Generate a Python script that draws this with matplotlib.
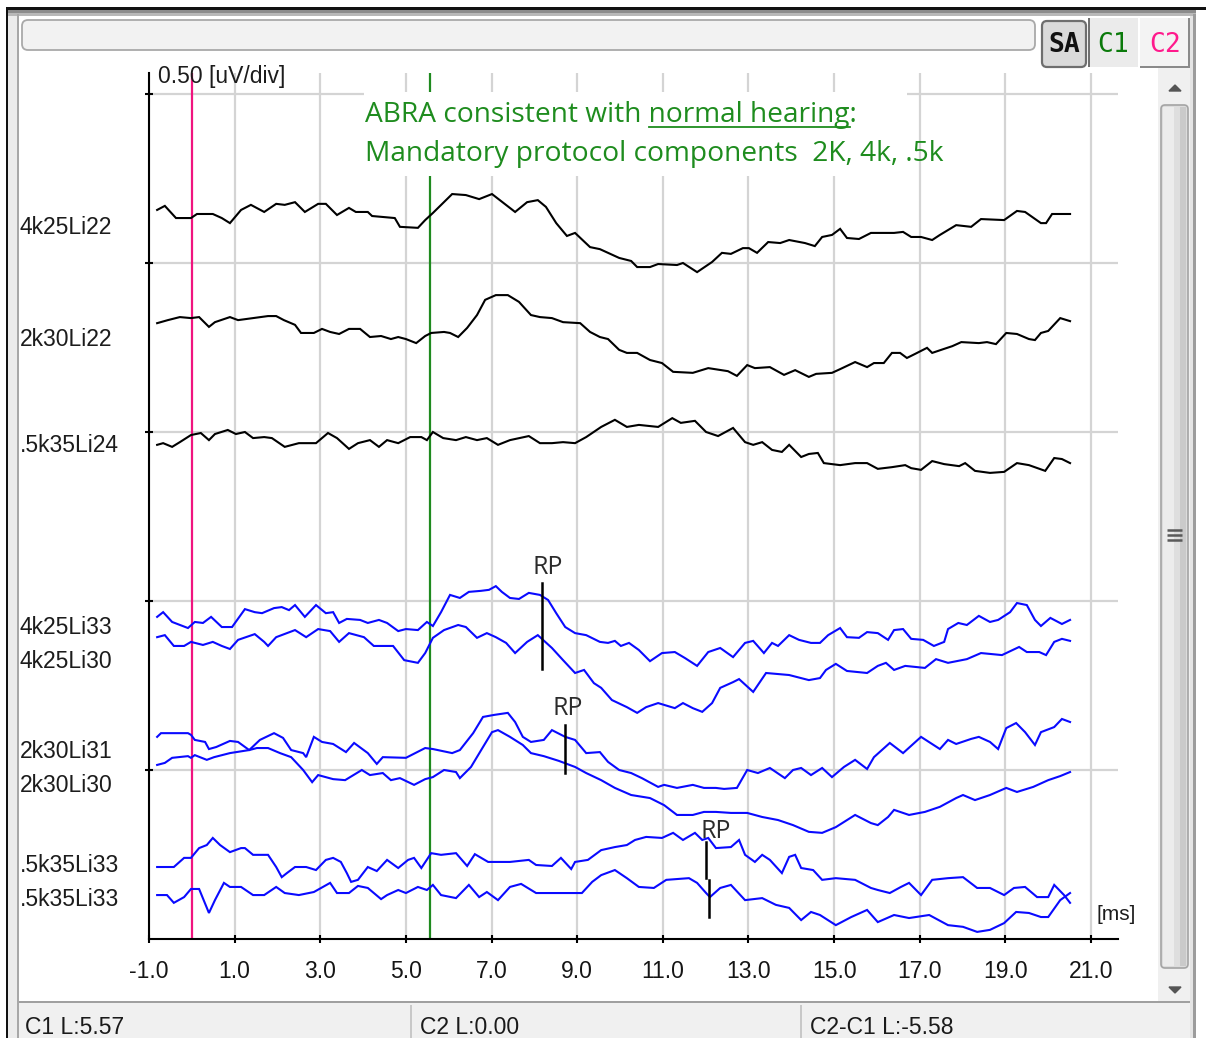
import matplotlib
matplotlib.use("Agg")
import matplotlib.pyplot as plt
from matplotlib.patches import Rectangle, FancyBboxPatch, Polygon
from matplotlib.lines import Line2D
import numpy as np

# ---------------- data ----------------
latency_ticks = [-1.0, 1.0, 3.0, 5.0, 7.0, 9.0, 11.0, 13.0, 15.0, 17.0, 19.0, 21.0]
amplitude_grid = [0.5, 1.0, 1.5, 2.0, 2.5]
scale_label = "0.50 [uV/div]"
unit_label = "[ms]"

trace_names = ["4k25Li22", "2k30Li22", ".5k35Li24", "4k25Li33", "4k25Li30",
               "2k30Li31", "2k30Li30", ".5k35Li33", ".5k35Li33"]
trace_colors = ["black", "black", "black", "blue", "blue", "blue", "blue", "blue", "blue"]

# (latency ms, amplitude uV on display scale)
tr_4k25Li22 = [(-0.81,2.157),(-0.63,2.169),(-0.37,2.133),(-0.02,2.133),(0.12,2.145),(0.49,2.145),(0.70,2.133),(0.89,2.118),(1.15,2.157),(1.38,2.172),(1.69,2.151),(1.97,2.175),(2.17,2.172),(2.41,2.180),(2.64,2.151),(2.95,2.175),(3.13,2.175),(3.39,2.142),(3.67,2.163),(3.83,2.151),(4.11,2.151),(4.21,2.139),(4.74,2.133),(4.86,2.107),(5.28,2.104),(5.45,2.127),(5.63,2.148),(6.08,2.204),(6.40,2.201),(6.71,2.189),(7.01,2.204),(7.55,2.151),(7.83,2.180),(8.08,2.186),(8.27,2.166),(8.51,2.118),(8.76,2.080),(8.95,2.089),(9.30,2.047),(9.53,2.041),(9.98,2.015),(10.26,2.006),(10.40,1.988),(10.70,1.988),(10.89,1.997),(11.33,1.994),(11.47,2.000),(11.80,1.973),(12.15,2.003),(12.38,2.030),(12.59,2.027),(12.87,2.044),(13.01,2.044),(13.20,2.030),(13.46,2.062),(13.74,2.059),(13.95,2.068),(14.32,2.059),(14.55,2.050),(14.72,2.077),(14.95,2.083),(15.14,2.101),(15.30,2.074),(15.58,2.071),(15.86,2.089),(16.40,2.089),(16.61,2.092),(16.80,2.077),(17.03,2.077),(17.29,2.068),(17.47,2.083),(17.85,2.112),(18.20,2.107),(18.43,2.130),(18.97,2.127),(19.27,2.154),(19.46,2.151),(19.83,2.118),(19.95,2.118),(20.09,2.145),(20.51,2.145)]
tr_2k30Li22 = [(-0.81,1.822),(-0.56,1.831),(-0.28,1.840),(-0.02,1.837),(0.17,1.840),(0.40,1.811),(0.54,1.825),(0.89,1.840),(1.08,1.831),(1.43,1.837),(1.78,1.843),(1.97,1.843),(2.15,1.831),(2.41,1.817),(2.55,1.793),(2.85,1.793),(3.04,1.805),(3.23,1.796),(3.44,1.790),(3.67,1.805),(3.93,1.805),(4.16,1.781),(4.42,1.784),(4.65,1.775),(4.82,1.781),(5.00,1.775),(5.24,1.763),(5.45,1.784),(5.59,1.793),(5.89,1.796),(6.03,1.793),(6.22,1.781),(6.43,1.808),(6.66,1.846),(6.85,1.891),(7.10,1.905),(7.38,1.905),(7.64,1.885),(7.92,1.846),(8.13,1.840),(8.41,1.837),(8.67,1.825),(9.07,1.822),(9.30,1.796),(9.53,1.781),(9.72,1.775),(9.98,1.743),(10.16,1.734),(10.40,1.734),(10.70,1.713),(10.98,1.704),(11.24,1.678),(11.70,1.675),(12.06,1.689),(12.52,1.680),(12.73,1.666),(12.97,1.698),(13.15,1.689),(13.50,1.692),(13.83,1.669),(14.09,1.683),(14.41,1.663),(14.58,1.672),(14.95,1.675),(15.14,1.686),(15.49,1.707),(15.77,1.692),(15.93,1.704),(16.16,1.704),(16.35,1.734),(16.54,1.734),(16.70,1.719),(16.89,1.731),(17.17,1.749),(17.29,1.734),(17.57,1.746),(17.76,1.754),(17.97,1.766),(18.38,1.763),(18.57,1.766),(18.78,1.760),(19.02,1.793),(19.27,1.790),(19.55,1.775),(19.69,1.772),(19.83,1.793),(20.00,1.799),(20.28,1.837),(20.51,1.828)]
tr_5k35Li24 = [(-0.81,1.462),(-0.67,1.467),(-0.46,1.456),(-0.28,1.470),(-0.02,1.491),(0.21,1.497),(0.40,1.476),(0.54,1.494),(0.84,1.506),(1.03,1.494),(1.24,1.500),(1.43,1.482),(1.69,1.485),(1.87,1.482),(2.17,1.456),(2.50,1.467),(2.90,1.467),(3.18,1.497),(3.39,1.482),(3.67,1.450),(3.88,1.467),(4.16,1.476),(4.37,1.456),(4.56,1.476),(4.82,1.467),(5.10,1.485),(5.36,1.485),(5.49,1.476),(5.63,1.500),(5.87,1.482),(6.17,1.476),(6.40,1.485),(6.66,1.476),(6.89,1.482),(7.15,1.462),(7.43,1.476),(7.87,1.488),(8.13,1.467),(8.41,1.467),(8.67,1.470),(8.95,1.467),(9.21,1.485),(9.56,1.515),(9.88,1.536),(10.16,1.515),(10.44,1.521),(10.89,1.515),(11.22,1.541),(11.42,1.527),(11.75,1.533),(12.01,1.500),(12.29,1.488),(12.64,1.512),(12.92,1.470),(13.11,1.462),(13.32,1.470),(13.55,1.447),(13.78,1.441),(13.95,1.462),(14.23,1.426),(14.41,1.435),(14.62,1.438),(14.76,1.408),(15.14,1.402),(15.49,1.408),(15.77,1.408),(16.02,1.391),(16.35,1.396),(16.66,1.402),(16.80,1.393),(17.03,1.388),(17.29,1.414),(17.57,1.405),(17.92,1.399),(18.06,1.408),(18.29,1.385),(18.64,1.379),(18.97,1.382),(19.27,1.408),(19.55,1.402),(19.93,1.385),(20.14,1.423),(20.32,1.420),(20.51,1.408)]
tr_4k25Li33 = [(-0.81,0.953),(-0.67,0.967),(-0.46,0.938),(-0.09,0.920),(0.07,0.938),(0.26,0.935),(0.45,0.953),(0.70,0.923),(0.94,0.923),(1.24,0.976),(1.47,0.967),(1.64,0.964),(1.92,0.979),(2.10,0.982),(2.27,0.973),(2.41,0.988),(2.64,0.953),(2.90,0.988),(3.13,0.964),(3.30,0.967),(3.44,0.935),(3.62,0.947),(3.93,0.944),(4.11,0.935),(4.37,0.944),(4.56,0.935),(4.82,0.911),(5.00,0.917),(5.28,0.914),(5.49,0.938),(5.63,0.926),(5.82,0.967),(6.03,1.018),(6.26,1.009),(6.47,1.027),(6.75,1.030),(6.94,1.033),(7.10,1.044),(7.24,1.027),(7.43,1.009),(7.64,1.006),(7.87,1.024),(8.13,1.018),(8.32,1.003),(8.51,0.964),(8.72,0.923),(8.95,0.905),(9.21,0.899),(9.53,0.879),(9.72,0.876),(9.88,0.882),(10.02,0.867),(10.21,0.876),(10.44,0.855),(10.70,0.822),(10.98,0.846),(11.28,0.849),(11.52,0.831),(11.80,0.808),(12.06,0.849),(12.34,0.861),(12.64,0.834),(12.92,0.876),(13.11,0.882),(13.36,0.846),(13.55,0.876),(13.69,0.867),(13.95,0.899),(14.18,0.885),(14.46,0.876),(14.67,0.876),(14.86,0.899),(15.14,0.920),(15.30,0.893),(15.58,0.891),(15.77,0.908),(16.02,0.905),(16.26,0.885),(16.40,0.914),(16.61,0.917),(16.80,0.888),(17.08,0.885),(17.33,0.867),(17.57,0.879),(17.66,0.917),(17.90,0.935),(18.10,0.929),(18.38,0.956),(18.64,0.938),(18.83,0.944),(19.11,0.967),(19.27,0.994),(19.50,0.988),(19.69,0.944),(19.83,0.926),(20.05,0.950),(20.32,0.932),(20.51,0.944)]
tr_4k25Li30 = [(-0.81,0.893),(-0.63,0.899),(-0.42,0.867),(-0.18,0.867),(-0.02,0.879),(0.26,0.870),(0.49,0.879),(0.70,0.867),(0.89,0.858),(1.08,0.885),(1.47,0.902),(1.69,0.879),(1.78,0.867),(1.97,0.893),(2.41,0.914),(2.67,0.893),(2.95,0.917),(3.23,0.911),(3.44,0.879),(3.67,0.905),(4.02,0.893),(4.25,0.867),(4.70,0.867),(4.96,0.825),(5.28,0.817),(5.45,0.846),(5.63,0.891),(5.89,0.914),(6.22,0.929),(6.40,0.923),(6.66,0.891),(6.89,0.905),(7.10,0.893),(7.34,0.876),(7.55,0.846),(7.83,0.879),(8.08,0.899),(8.41,0.861),(8.67,0.825),(8.95,0.787),(9.16,0.796),(9.39,0.757),(9.56,0.743),(9.81,0.707),(10.16,0.686),(10.40,0.669),(10.61,0.686),(10.89,0.698),(11.28,0.683),(11.47,0.698),(11.70,0.683),(11.92,0.672),(12.15,0.698),(12.34,0.743),(12.64,0.760),(12.78,0.769),(13.11,0.731),(13.41,0.787),(13.95,0.781),(14.41,0.766),(14.67,0.772),(14.81,0.796),(15.04,0.814),(15.30,0.793),(15.77,0.787),(16.02,0.808),(16.21,0.817),(16.40,0.796),(16.66,0.808),(17.12,0.802),(17.38,0.828),(17.66,0.817),(18.10,0.828),(18.43,0.846),(18.92,0.840),(19.32,0.864),(19.50,0.849),(19.79,0.849),(19.95,0.840),(20.14,0.879),(20.32,0.888),(20.51,0.882)]
tr_2k30Li31 = [(-0.81,0.515),(-0.63,0.521),(-0.46,0.536),(-0.09,0.541),(-0.02,0.536),(0.07,0.544),(0.35,0.530),(0.52,0.538),(0.89,0.550),(1.34,0.559),(1.59,0.589),(1.92,0.609),(2.13,0.595),(2.32,0.559),(2.60,0.550),(2.67,0.538),(2.85,0.598),(3.04,0.583),(3.30,0.577),(3.60,0.553),(3.79,0.580),(4.11,0.550),(4.32,0.518),(4.46,0.538),(5.00,0.536),(5.45,0.565),(5.63,0.562),(6.08,0.550),(6.26,0.559),(6.57,0.609),(6.80,0.657),(7.06,0.663),(7.38,0.669),(7.55,0.642),(7.73,0.598),(7.92,0.583),(8.22,0.589),(8.41,0.618),(8.72,0.598),(8.95,0.589),(9.21,0.550),(9.53,0.553),(9.72,0.524),(9.98,0.500),(10.26,0.491),(10.51,0.476),(10.89,0.450),(11.03,0.456),(11.33,0.447),(11.70,0.456),(11.96,0.447),(12.24,0.447),(12.43,0.444),(12.73,0.447),(12.97,0.500),(13.22,0.491),(13.50,0.506),(13.85,0.476),(14.04,0.500),(14.23,0.506),(14.46,0.485),(14.72,0.506),(14.95,0.479),(15.23,0.509),(15.49,0.530),(15.77,0.503),(15.93,0.538),(16.30,0.580),(16.61,0.550),(17.03,0.598),(17.47,0.562),(17.66,0.589),(17.85,0.577),(18.20,0.592),(18.38,0.598),(18.64,0.583),(18.83,0.562),(19.02,0.624),(19.25,0.639),(19.46,0.612),(19.69,0.574),(19.83,0.612),(20.14,0.627),(20.32,0.651),(20.51,0.642)]
tr_2k30Li30 = [(-0.81,0.598),(-0.72,0.609),(-0.09,0.609),(-0.02,0.604),(0.07,0.589),(0.31,0.583),(0.40,0.562),(0.57,0.568),(0.89,0.586),(1.08,0.583),(1.34,0.559),(1.52,0.565),(1.78,0.565),(2.06,0.550),(2.32,0.538),(2.60,0.500),(2.81,0.464),(2.95,0.485),(3.30,0.473),(3.58,0.470),(3.97,0.500),(4.16,0.485),(4.46,0.491),(4.65,0.470),(4.86,0.476),(5.19,0.456),(5.45,0.473),(5.63,0.479),(5.89,0.500),(6.17,0.494),(6.26,0.476),(6.52,0.509),(6.80,0.568),(7.01,0.612),(7.15,0.618),(7.43,0.598),(7.73,0.574),(7.92,0.550),(8.22,0.541),(8.57,0.527),(8.95,0.509),(9.21,0.491),(9.56,0.470),(9.88,0.447),(10.26,0.426),(10.70,0.417),(11.03,0.396),(11.33,0.367),(11.70,0.367),(11.96,0.376),(12.24,0.376),(12.59,0.373),(12.97,0.373),(13.32,0.361),(13.69,0.352),(14.04,0.337),(14.41,0.317),(14.72,0.314),(15.04,0.331),(15.49,0.367),(15.86,0.343),(16.02,0.337),(16.26,0.361),(16.40,0.382),(16.75,0.367),(17.12,0.376),(17.47,0.391),(17.85,0.417),(18.01,0.426),(18.29,0.411),(18.64,0.426),(19.02,0.447),(19.27,0.435),(19.65,0.450),(20.00,0.470),(20.28,0.482),(20.51,0.494)]
tr_5k35Li33_a = [(-0.81,0.213),(-0.42,0.213),(-0.18,0.240),(-0.02,0.240),(0.17,0.269),(0.35,0.278),(0.49,0.299),(0.66,0.278),(0.89,0.257),(1.15,0.269),(1.24,0.269),(1.43,0.249),(1.78,0.249),(1.97,0.213),(2.10,0.183),(2.22,0.195),(2.41,0.213),(2.67,0.213),(2.90,0.204),(3.13,0.234),(3.30,0.240),(3.48,0.228),(3.62,0.195),(3.72,0.169),(3.88,0.175),(4.11,0.213),(4.32,0.201),(4.56,0.234),(4.82,0.210),(5.05,0.234),(5.19,0.240),(5.36,0.210),(5.59,0.254),(5.82,0.249),(6.17,0.254),(6.43,0.216),(6.61,0.251),(6.92,0.228),(7.43,0.228),(7.87,0.234),(8.04,0.219),(8.41,0.216),(8.62,0.240),(8.86,0.207),(8.95,0.228),(9.25,0.234),(9.56,0.263),(9.88,0.272),(10.16,0.278),(10.35,0.293),(10.61,0.302),(10.98,0.299),(11.24,0.314),(11.47,0.293),(11.75,0.314),(11.92,0.293),(12.06,0.299),(12.24,0.269),(12.59,0.272),(12.78,0.293),(12.92,0.249),(13.15,0.228),(13.32,0.249),(13.50,0.234),(13.78,0.195),(13.95,0.243),(14.09,0.249),(14.23,0.210),(14.51,0.204),(14.72,0.175),(15.04,0.180),(15.49,0.175),(15.86,0.151),(16.02,0.145),(16.30,0.136),(16.56,0.154),(16.75,0.166),(17.03,0.130),(17.29,0.175),(17.66,0.180),(18.01,0.183),(18.34,0.151),(18.64,0.151),(18.97,0.130),(19.20,0.151),(19.46,0.154),(19.74,0.124),(20.00,0.124),(20.14,0.160),(20.37,0.130),(20.51,0.107)]
tr_5k35Li33_b = [(-0.81,0.130),(-0.58,0.130),(-0.42,0.107),(-0.18,0.124),(-0.02,0.148),(0.17,0.148),(0.40,0.077),(0.54,0.115),(0.75,0.166),(0.89,0.154),(1.15,0.154),(1.43,0.130),(1.69,0.130),(1.97,0.154),(2.17,0.136),(2.50,0.130),(2.85,0.139),(3.23,0.166),(3.39,0.136),(3.67,0.136),(3.88,0.157),(4.11,0.151),(4.42,0.118),(4.56,0.130),(4.82,0.145),(5.00,0.136),(5.28,0.154),(5.49,0.145),(5.63,0.160),(5.82,0.130),(6.17,0.121),(6.47,0.160),(6.71,0.124),(6.89,0.139),(7.15,0.115),(7.43,0.154),(7.69,0.163),(8.04,0.136),(8.46,0.136),(8.67,0.136),(9.11,0.136),(9.35,0.169),(9.56,0.189),(9.88,0.204),(10.16,0.180),(10.44,0.154),(10.79,0.151),(11.08,0.175),(11.61,0.180),(11.80,0.166),(12.01,0.136),(12.10,0.124),(12.34,0.151),(12.59,0.160),(12.92,0.115),(13.32,0.121),(13.64,0.101),(13.95,0.092),(14.23,0.056),(14.46,0.080),(14.67,0.071),(15.04,0.041),(15.40,0.065),(15.77,0.086),(16.02,0.050),(16.40,0.071),(16.75,0.062),(17.22,0.071),(17.66,0.041),(18.01,0.036),(18.34,0.021),(18.64,0.027),(18.97,0.047),(19.25,0.080),(19.55,0.077),(19.83,0.065),(20.00,0.065),(20.28,0.115),(20.51,0.136)]

traces = [tr_4k25Li22, tr_2k30Li22, tr_5k35Li24, tr_4k25Li33, tr_4k25Li30,
          tr_2k30Li31, tr_2k30Li30, tr_5k35Li33_a, tr_5k35Li33_b]

cursor_c1 = 5.57      # green cursor
cursor_c2 = 0.00      # magenta cursor
status_texts = ["C1 L:5.57", "C2 L:0.00", "C2-C1 L:-5.58"]

# RP markers: (latency, amplitude bottom, amplitude top)
rp_marks = [(8.18, 0.799, 1.053), (8.72, 0.491, 0.633), (12.01, 0.180, 0.287), (12.08, 0.065, 0.175)]
rp_labels = [(8.32, 1.080), (8.77, 0.663), (12.24, 0.299)]

note_line1 = "ABRA consistent with normal hearing:"
note_underlined = "normal hearing"
note_line2 = "Mandatory protocol components  2K, 4k, .5k"

# ---------------- figure ----------------
W, H = 1206, 1038
fig = plt.figure(figsize=(W / 100, H / 100), dpi=100)
fig.patch.set_facecolor("white")
renderer = fig.canvas.get_renderer()

def fx(x): return x / W
def fy(y): return 1 - y / H

def rect(x0, y0, x1, y1, fc, ec="none", lw=0, z=0):
    fig.add_artist(Rectangle((fx(x0), fy(y1)), (x1 - x0) / W, (y1 - y0) / H,
                             transform=fig.transFigure, facecolor=fc,
                             edgecolor=ec, linewidth=lw, zorder=z))

def rbox(x0, y0, x1, y1, fc, ec, lw=1.0, r=4, z=0):
    fig.add_artist(FancyBboxPatch((fx(x0), fy(y1)), (x1 - x0) / W, (y1 - y0) / H,
                                  boxstyle=f"round,pad=0,rounding_size={r / W}",
                                  transform=fig.transFigure, facecolor=fc,
                                  edgecolor=ec, linewidth=lw, zorder=z,
                                  mutation_aspect=W / H))

def fline(xs, ys, color, lw, z=2):
    fig.add_artist(Line2D([fx(x) for x in xs], [fy(y) for y in ys],
                          transform=fig.transFigure, color=color, lw=lw, zorder=z,
                          solid_capstyle="butt"))

def text_width(s, family, size):
    tmp = fig.text(0, 0, s, family=family, fontsize=size)
    w = tmp.get_window_extent(renderer).width
    tmp.remove()
    return w

# window chrome
rect(6, 7, 1206, 10, "#111111")
rect(8, 10, 1196, 13, "#8c8c8c")
rect(8, 13, 1196, 16, "#b8b8b8")
rect(6, 7, 8, 1038, "#111111")
rect(8, 16, 17, 1038, "#ececec")
rect(17, 14, 19, 1038, "#a8a8a8")
rect(1190, 16, 1193, 1038, "#e4e4e4")
rect(1193, 14, 1196, 1038, "#9c9c9c")

# top bar
rbox(22, 20, 1035, 50, "#f2f2f2", "#a9a9a9", lw=1.3, r=6)

# buttons
rbox(1042, 21, 1086, 67, "#dadada", "#6e6e6e", lw=1.6, r=5)
rect(1088, 18, 1138, 67, "#ebebeb")
rect(1088, 18, 1090, 67, "#707070")
rect(1140, 18, 1190, 68, "#f3f3f3")
rect(1140, 66, 1190, 68, "#8a8a8a")
rect(1188, 18, 1190, 68, "#8a8a8a")
btn_font = dict(family="DejaVu Sans Mono", fontsize=19, ha="center", va="center")
fig.text(fx(1064), fy(45), "SA", color="#111111", fontweight="bold", **btn_font)
fig.text(fx(1113), fy(45), "C1", color="#0b7a0b", **btn_font)
fig.text(fx(1165), fy(45), "C2", color="#ff1a8c", **btn_font)

# scrollbar
rect(1158, 68, 1190, 1002, "#f0f0f0")
rbox(1161, 105, 1188, 968, "#dcdcdc", "#a4a4a4", lw=1.2, r=4)
rect(1163, 107, 1174, 966, "#ececec")
rect(1174, 107, 1180, 966, "#dedede")
rect(1180, 107, 1186, 966, "#cacaca")
for gy in (530, 535, 540):
    fline([1167, 1182], [gy, gy], "#5a5a5a", 1.8, z=3)
fig.add_artist(Polygon([(fx(1169), fy(91)), (fx(1181), fy(91)), (fx(1175), fy(85))],
                       transform=fig.transFigure, color="#555555", zorder=3))
fig.add_artist(Polygon([(fx(1169), fy(987)), (fx(1181), fy(987)), (fx(1175), fy(993))],
                       transform=fig.transFigure, color="#555555", zorder=3))

# status bar
rect(19, 1003, 1190, 1038, "#f0f0f0")
rect(19, 1001, 1190, 1003, "#a0a0a0")
for sx in (410, 800):
    rect(sx, 1005, sx + 2, 1038, "#c8c8c8")
for sx, s in zip((25, 420, 810), status_texts):
    fig.text(fx(sx), fy(1016), s, family="Liberation Sans", fontsize=16.5,
             color="#1a1a1a", ha="left", va="top")

# ---------------- axes ----------------
px_per_ms = 42.82
px_per_uV = 338.0
x0_px, x1_px, yb_px, yt_px = 149, 1118, 939, 73
ax = fig.add_axes([fx(x0_px), fy(yb_px), (x1_px - x0_px) / W, (yb_px - yt_px) / H])
ax.set_facecolor("none")
ax.set_xlim(-1.0, -1.0 + (x1_px - x0_px) / px_per_ms)
ax.set_ylim(0, (yb_px - yt_px) / px_per_uV)
for s in ("top", "right"):
    ax.spines[s].set_visible(False)
for s in ("left", "bottom"):
    ax.spines[s].set_color("black")
    ax.spines[s].set_linewidth(1.5)
ax.set_xticks(latency_ticks)
ax.set_xticklabels([f"{t:.1f}" for t in latency_ticks], family="Liberation Sans",
                   fontsize=16.5, color="#151515")
ax.set_yticks(amplitude_grid)
ax.set_yticklabels([])
ax.tick_params(axis="both", direction="inout", length=6, width=1.5, color="black")
ax.tick_params(axis="x", pad=12)
ax.grid(True, color="#d4d4d4", lw=1.6)
ax.set_axisbelow(True)

# cursors
ax.axvline(cursor_c2, color="#f0147f", lw=1.6, zorder=1.5)
ax.axvline(cursor_c1, color="#1f8a1f", lw=1.6, zorder=1.5)

# white background behind the note
ax.add_patch(Rectangle((4.02, 2.257), 16.70 - 4.02, 2.506 - 2.257,
                       facecolor="white", edgecolor="none", zorder=2))

# traces
for tr, col in zip(traces, trace_colors):
    t = [p[0] for p in tr]
    v = [p[1] for p in tr]
    ax.plot(t, v, color=("#0a0aff" if col == "blue" else "#000000"), lw=1.5,
            zorder=3, solid_joinstyle="miter")

# RP markers
for lat, lo, hi in rp_marks:
    ax.plot([lat, lat], [lo, hi], color="black", lw=1.8, zorder=4)
for lat, amp in rp_labels:
    ax.text(lat, amp, "RP", family="Open Sans", fontsize=18, color="#2b2b2b",
            ha="center", va="baseline", zorder=5)

# trace labels
label_y = [228, 340, 446, 627, 661, 752, 786, 866, 900]
for name, y in zip(trace_names, label_y):
    fig.text(fx(20), fy(y), name, family="Liberation Sans", fontsize=16.5,
             color="#1c1c1c", ha="left", va="center")

fig.text(fx(158), fy(77), scale_label, family="Liberation Sans", fontsize=16.5,
         color="#1c1c1c", ha="left", va="center")
fig.text(fx(1097), fy(915), unit_label, family="Liberation Sans", fontsize=15,
         color="#1c1c1c", ha="left", va="center")

# green note (font size fitted to the width of the first line)
note_col = "#1e8c1e"
note_font = "Open Sans"
base = 18.0
note_size = base * 493.0 / text_width(note_line1, note_font, base)
t1 = fig.text(fx(365), fy(122), note_line1, family=note_font, fontsize=note_size,
              color=note_col, ha="left", va="baseline", zorder=5)
t2 = fig.text(fx(365), fy(161), note_line2, family=note_font, fontsize=note_size,
              color=note_col, ha="left", va="baseline", zorder=5)
bb_full = t1.get_window_extent(renderer)
tail1 = note_line1[note_line1.index(note_underlined):]
w_tail = text_width(tail1, note_font, note_size)
w_colon = text_width(":", note_font, note_size)
u0 = (bb_full.x1 - w_tail) / W
u1 = (bb_full.x1 - w_colon) / W
fig.add_artist(Line2D([u0, u1], [fy(127), fy(127)], transform=fig.transFigure,
                      color=note_col, lw=1.3, zorder=5))

fig.savefig("out.png", dpi=100, facecolor="white")
